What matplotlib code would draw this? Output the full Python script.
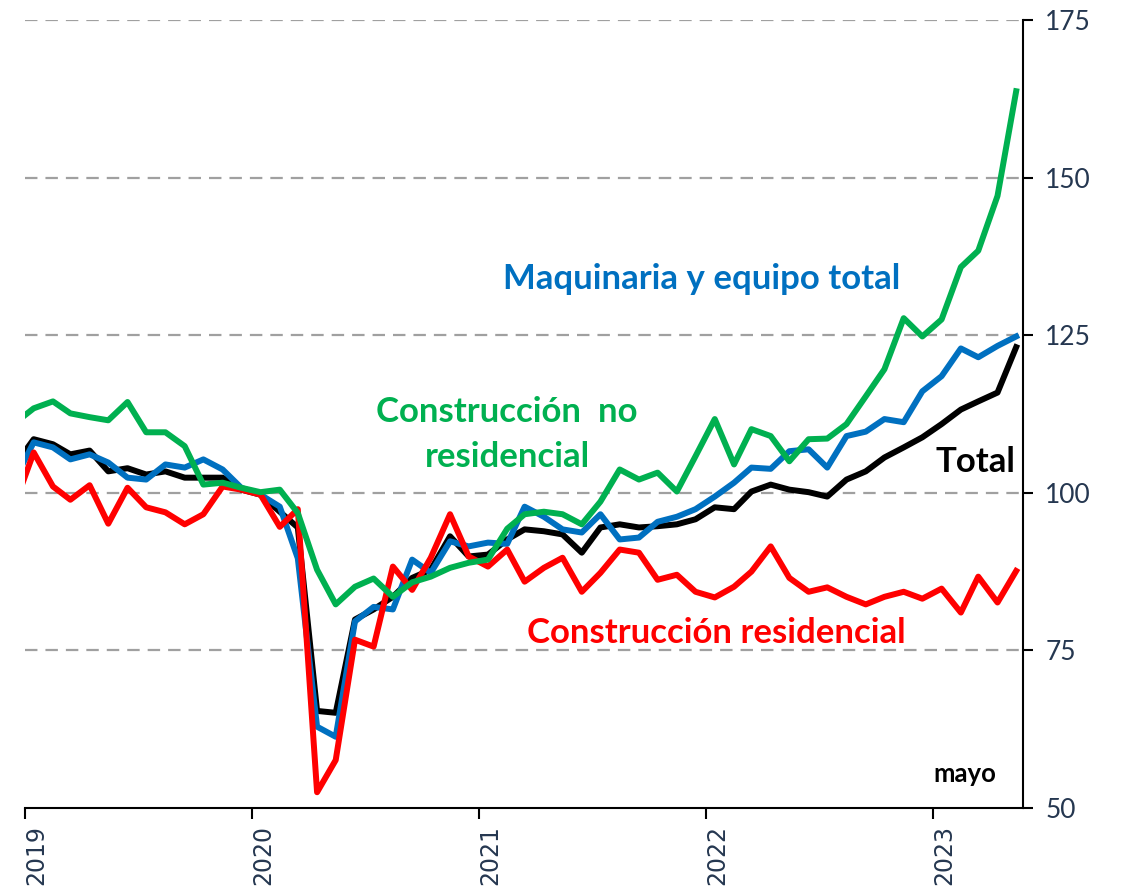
import matplotlib
matplotlib.use("Agg")
import matplotlib.pyplot as plt
import matplotlib.dates as mdates
import matplotlib.transforms as mtransforms
import numpy as np
import pandas as pd

# monthly index, Dec 2018 - May 2023
months = pd.date_range("2018-12-01", "2023-05-01", freq="MS")

total = [104.3,
         108.5, 107.7, 106.1, 106.7, 103.4, 103.9, 102.9, 103.4, 102.4, 102.4, 102.4, 100.5,
         99.7, 97.0, 94.5, 65.4, 65.1, 79.9, 81.5, 83.5, 86.5, 87.8, 93.1, 89.9,
         90.2, 92.6, 94.2, 93.9, 93.4, 90.5, 94.5, 95.0, 94.5, 94.7, 95.0, 95.8,
         97.7, 97.4, 100.2, 101.3, 100.5, 100.1, 99.4, 102.1, 103.4, 105.6, 107.2, 108.8,
         110.9, 113.2, 114.5, 115.9, 123.1]

maquinaria = [102.0,
              108.0, 107.2, 105.3, 106.1, 104.8, 102.4, 102.1, 104.5, 104.0, 105.3, 103.7, 100.8,
              99.7, 97.8, 89.6, 62.9, 61.3, 79.6, 81.9, 81.5, 89.4, 87.3, 92.3, 91.5,
              92.1, 91.9, 97.8, 96.2, 94.2, 93.7, 96.6, 92.6, 92.9, 95.4, 96.2, 97.4,
              99.4, 101.6, 104.0, 103.8, 106.6, 106.9, 104.0, 109.0, 109.7, 111.7, 111.2, 116.1,
              118.5, 122.9, 121.5, 123.3, 124.8]

residencial = [98.0,
               106.4, 101.0, 98.9, 101.2, 95.1, 100.8, 97.7, 96.9, 95.0, 96.6, 101.0, 100.5,
               99.7, 94.6, 97.4, 52.5, 57.6, 76.7, 75.6, 88.3, 84.6, 89.7, 96.6, 89.9,
               88.3, 91.0, 85.9, 88.1, 89.7, 84.3, 87.3, 91.0, 90.5, 86.2, 87.0, 84.3,
               83.4, 85.1, 87.5, 91.5, 86.5, 84.3, 85.0, 83.5, 82.3, 83.5, 84.3, 83.2,
               84.8, 81.0, 86.7, 82.6, 87.6]

no_residencial = [111.0,
                  113.4, 114.5, 112.6, 112.0, 111.5, 114.4, 109.6, 109.6, 107.4, 101.3, 101.6, 100.8,
                  100.1, 100.5, 96.8, 87.8, 82.3, 85.1, 86.4, 83.5, 85.8, 86.7, 88.1, 88.9,
                  89.4, 94.3, 96.6, 97.0, 96.6, 95.0, 98.6, 103.7, 102.1, 103.2, 100.2, 105.8,
                  111.7, 104.5, 110.1, 109.0, 105.0, 108.5, 108.6, 110.9, 115.3, 119.6, 127.7, 124.8,
                  127.5, 135.8, 138.4, 147.1, 163.7]

y_ticks = [50, 75, 100, 125, 150, 175]

# points sit at mid-month
x = months + pd.Timedelta(days=14)

fig = plt.figure(figsize=(11.27, 8.93), dpi=100)
ax = fig.add_axes([25 / 1127, 85 / 893, 998 / 1127, 788 / 893])

lw = 4.3
ax.plot(x, total, color="black", lw=lw, solid_joinstyle="round", zorder=3)
ax.plot(x, maquinaria, color="#0070C0", lw=lw, solid_joinstyle="round", zorder=4)
ax.plot(x, residencial, color="#FF0000", lw=lw, solid_joinstyle="round", zorder=5)
ax.plot(x, no_residencial, color="#00B050", lw=lw, solid_joinstyle="round", zorder=6)

ax.set_xlim(pd.Timestamp("2019-01-01"), pd.Timestamp("2023-05-26"))
ax.set_ylim(50, 175)

for v in y_ticks[1:]:
    ax.axhline(v, color="#A0A0A0", lw=1.6, linestyle=(0, (5.6, 3.6)), zorder=1)

for s in ["left", "top"]:
    ax.spines[s].set_visible(False)
for s in ["right", "bottom"]:
    ax.spines[s].set_linewidth(1.5)
    ax.spines[s].set_zorder(7)

ax.yaxis.tick_right()
ax.set_yticks(y_ticks)
ax.tick_params(axis="y", direction="out", length=7, width=1.5, pad=9,
               labelsize=19, labelcolor="#253750")
for lab in ax.get_yticklabels():
    lab.set_family("Lato")

ax.xaxis.set_major_locator(mdates.YearLocator())
ax.xaxis.set_major_formatter(mdates.DateFormatter("%Y"))
ax.tick_params(axis="x", direction="out", length=8, width=1.5, pad=4,
               labelsize=17, labelcolor="#253750", labelrotation=90)
offset = mtransforms.ScaledTranslation(11 / 100, 0, fig.dpi_scale_trans)
for lab in ax.get_xticklabels():
    lab.set_verticalalignment("top")
    lab.set_transform(lab.get_transform() + offset)

tkw = dict(transform=ax.transAxes, ha="center", va="baseline",
           fontweight="bold", family="Lato")
ax.text(0.678, 0.659, "Maquinaria y equipo total", color="#0070C0", fontsize=25, **tkw)
ax.text(0.483, 0.490, "Construcción  no", color="#00B050", fontsize=25, **tkw)
ax.text(0.483, 0.433, "residencial", color="#00B050", fontsize=25, **tkw)
ax.text(0.952, 0.426, "Total", color="black", fontsize=25, **tkw)
ax.text(0.693, 0.209, "Construcción residencial", color="#FF0000", fontsize=25, **tkw)
ax.text(0.942, 0.033, "mayo", color="black", fontsize=18.5, **tkw)

fig.savefig("out.png", dpi=100)
